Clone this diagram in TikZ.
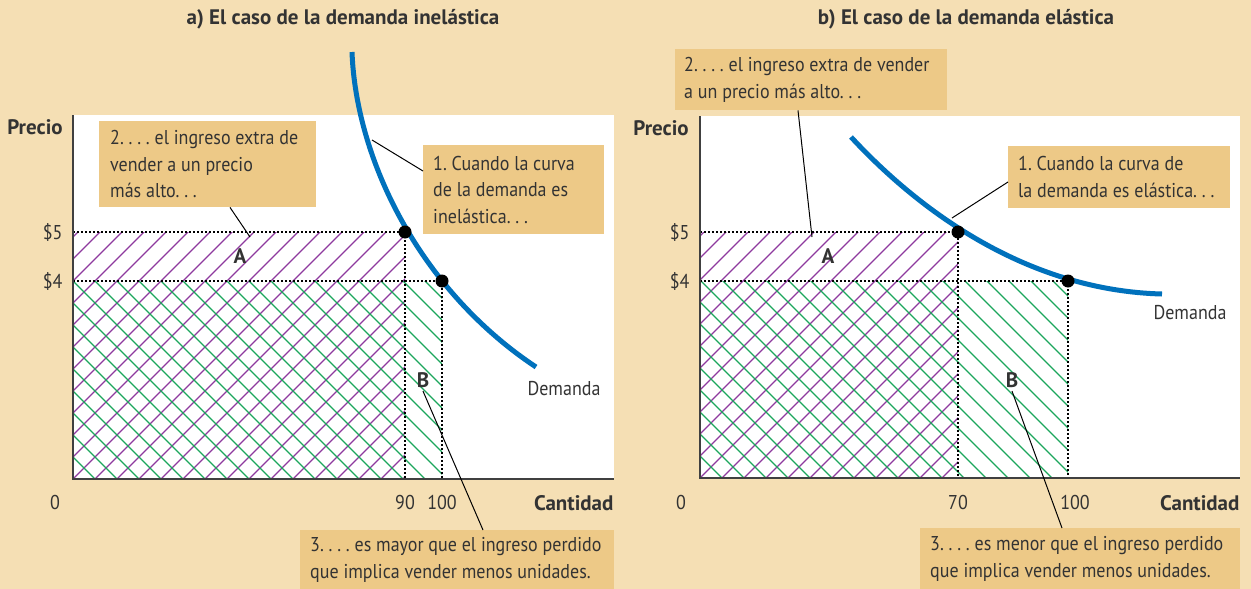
\documentclass[tikz,border=0pt]{standalone}
\usepackage{fontspec}
\setmainfont[FakeStretch=0.9, BoldFeatures={FakeStretch=1.0}]{PT Sans}
\usetikzlibrary{calc}
\definecolor{fondo}{HTML}{F5DFB4}
\definecolor{crema}{HTML}{EDC987}
\definecolor{azul}{HTML}{0071BC}
\definecolor{lila}{HTML}{8E3A9E}
\definecolor{verde}{HTML}{1CA65C}
\definecolor{texto}{HTML}{333333}
\frenchspacing
\tikzset{
  cuadro/.style={fill=crema, anchor=north west, inner sep=0pt},
  nota/.style={anchor=west, align=left, inner sep=0pt, text=texto, font=\fontsize{20}{26.5}\selectfont},
  rotulo/.style={text=texto, font=\fontsize{20}{22}\selectfont},
  negrita/.style={text=texto, font=\fontsize{21}{23}\selectfont\bfseries},
  guia/.style={line width=1pt, black},
  punteo/.style={line width=2pt, black, dash pattern=on 2pt off 2pt},
  eje/.style={line width=2pt, black!75},
  demanda/.style={line width=5pt, azul},
  rayaA/.style={line width=1.3pt, lila},
  rayaB/.style={line width=1.3pt, verde}
}

\begin{document}
\begin{tikzpicture}[x=1pt,y=-1pt]
			%%%%% START %%%%%
			
			\useasboundingbox (0,0) rectangle (1251,589);
			\fill[fondo] (0,0) rectangle (1251,589);
			\fill[white] (73,115) rectangle (614,479);
			\fill[white] (700,116) rectangle (1240,478);
			
			%%%%% a) inelastica %%%%%
			\begin{scope}
				\clip (73,232) rectangle (405,479);
				\foreach \i in {0,...,31} \draw[rayaA] ({-191+\i*22},479) -- ++(300,-300);
			\end{scope}
			\begin{scope}
				\clip (73,281) rectangle (442,479);
				\foreach \i in {0,...,31} \draw[rayaB] ({73+\i*22},479) -- ++(-300,-300);
			\end{scope}
			
			\draw[punteo] (73,232) -- (405,232) -- (405,479);
			\draw[punteo] (73,281) -- (442,281) -- (442,479);
			\draw[eje] (73,115) -- (73,479) -- (614,479);
			
			\draw[demanda] (352,52) .. controls (356,160) and (420,290) .. (536,367);
			\fill (405,232) circle (6.5);
			\fill (442,281) circle (6.5);
			
			\node[negrita] (tituloA) at (343,19) {a) El caso de la demanda inelástica};
			\node[negrita] (precioA) at (35,127) {Precio};
			\node[rotulo, anchor=east] (cincoA) at (66,232) {\$5};
			\node[rotulo, anchor=east] (cuatroA) at (66,281) {\$4};
			\node[rotulo] (ceroA) at (55,502) {0};
			\node[rotulo] (noventa) at (405,502) {90};
			\node[rotulo] (cienA) at (442,502) {100};
			\node[negrita, anchor=east] (cantidadA) at (617,503) {Cantidad};
			\node[negrita] (letraAa) at (240,256) {A};
			\node[negrita] (letraBa) at (423,380) {B};
			\node[rotulo] (demandaA) at (564,389) {Demanda};
			
			\node[cuadro, minimum width=217pt, minimum height=86pt] (dosA) at (99,121) {};
			\node[nota] (dosAtxt) at ($(dosA.west)+(11,0)$)
				{2. . . . el ingreso extra de\\vender a un precio\\más alto. . .};
			\node[cuadro, minimum width=181pt, minimum height=89pt] (unoA) at (423,145) {};
			\node[nota] (unoAtxt) at ($(unoA.west)+(10,0)$)
				{1. Cuando la curva\\de la demanda es\\inelástica. . .};
			\node[cuadro, minimum width=314pt, minimum height=59pt] (tresA) at (300,530) {};
			\node[nota] (tresAtxt) at ($(tresA.west)+(10,0)$)
				{3. . . . es mayor que el ingreso perdido\\que implica vender menos unidades.};
			
			\coordinate (pA) at (250,237);
			\coordinate (cA) at (372,140);
			\draw[guia] ($(dosA.south west)+(131,0)$) -- (pA);
			\draw[guia] ($(unoA.north west)+(0,26)$) -- (cA);
			\draw[guia] (letraBa.south) -- ($(tresA.north west)+(183,0)$);
			
			%%%%% b) elastica %%%%%
			\begin{scope}
				\clip (700,232) rectangle (958,478);
				\foreach \i in {0,...,33} \draw[rayaA] ({436+\i*22},478) -- ++(300,-300);
			\end{scope}
			\begin{scope}
				\clip (700,281) rectangle (1068,478);
				\foreach \i in {0,...,31} \draw[rayaB] ({700+\i*22},478) -- ++(-300,-300);
			\end{scope}
			
			\draw[punteo] (700,232) -- (958,232) -- (958,478);
			\draw[punteo] (700,281) -- (1068,281) -- (1068,478);
			\draw[eje] (700,116) -- (700,478) -- (1240,478);
			
			\draw[demanda] (851,137) .. controls (900,190) and (1010,290) .. (1162,294);
			\fill (958,232) circle (6.5);
			\fill (1068,281) circle (6.5);
			
			\node[negrita] (tituloB) at (966,19) {b) El caso de la demanda elástica};
			\node[negrita] (precioB) at (661,128) {Precio};
			\node[rotulo, anchor=east] (cincoB) at (693,232) {\$5};
			\node[rotulo, anchor=east] (cuatroB) at (693,281) {\$4};
			\node[rotulo] (ceroB) at (681,502) {0};
			\node[rotulo] (setenta) at (958,502) {70};
			\node[rotulo] (cienB) at (1075,502) {100};
			\node[negrita, anchor=east] (cantidadB) at (1243,503) {Cantidad};
			\node[negrita] (letraAb) at (828,256) {A};
			\node[negrita] (letraBb) at (1012,380) {B};
			\node[rotulo] (demandaB) at (1190,313) {Demanda};
			
			\node[cuadro, minimum width=272pt, minimum height=61pt] (dosB) at (675,49) {};
			\node[nota] (dosBtxt) at ($(dosB.west)+(9,0)$)
				{2. . . . el ingreso extra de vender\\a un precio más alto. . .};
			\node[cuadro, minimum width=222pt, minimum height=62pt] (unoB) at (1008,146) {};
			\node[nota] (unoBtxt) at ($(unoB.west)+(10,0)$)
				{1. Cuando la curva de\\la demanda es elástica. . .};
			\node[cuadro, minimum width=320pt, minimum height=61pt] (tresB) at (920,528) {};
			\node[nota] (tresBtxt) at ($(tresB.west)+(10,0)$)
				{3. . . . es menor que el ingreso perdido\\que implica vender menos unidades.};
			
			\coordinate (pB) at (812,237);
			\coordinate (cB) at (952,218);
			\draw[guia] ($(dosB.south west)+(123,0)$) -- (pB);
			\draw[guia] ($(unoB.north west)+(0,36)$) -- (cB);
			\draw[guia] (letraBb.south) -- ($(tresB.north west)+(142,0)$);
			
			%%%%% END %%%%%
\end{tikzpicture}
\end{document}
